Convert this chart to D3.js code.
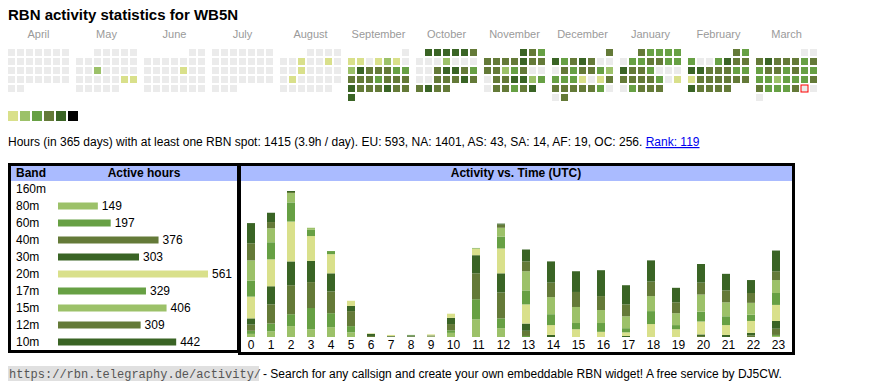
<!DOCTYPE html>
<html>
<head>
<meta charset="utf-8">
<script src="https://cdn.jsdelivr.net/npm/d3@7"></script>
<style>
  body { margin: 0; background: #fff; }
  text { font-family: "Liberation Sans", Arial, sans-serif; }
</style>
</head>
<body>
<div id="chart"></div>
<script>
// ---- data ----
const callsign = 'WB5N';
const months = ['April', 'May', 'June', 'July', 'August', 'September', 'October',
  'November', 'December', 'January', 'February', 'March'];
const startYear = 2024, startMonth = 3; // April 2024
const today = new Date(2025, 2, 29);
// activity level per day (0 = none ... 6 = max), one string per month
const dayLevels = [
  '000000000000000000000000000000',
  '0000000000000020000000001100000',
  '000000000000010000000000000000',
  '0000000000000000000000000000000',
  '0000001001000100000100000000000',
  '011012102544433444344454445445',
  '5555540002000004554300444544544',
  '543444454444234000445523044345',
  '4534540004344323331014444443004',
  '4333303344335443000444430103444',
  '4330035445544433144444454444',
  '0045444343443433332333443334000'
];
const levelColors = ['#ebebeb', '#d9e08b', '#9cc169', '#67a044', '#647a38', '#3a6425', '#000000'];

const bandNames = ['160m', '80m', '60m', '40m', '30m', '20m', '17m', '15m', '12m', '10m'];
const bandHours = [0, 149, 197, 376, 303, 561, 329, 406, 309, 442];
const bandLevel = [1, 2, 3, 4, 5, 1, 3, 2, 4, 5];

const hours = d3.range(24);
const h160 = [0, 0, 0, 0, 0, 0, 0, 0, 0, 0, 0, 0, 0, 0, 0, 0, 0, 0, 0, 0, 0, 0, 0, 0];
const h80 = [6, 11, 21, 15, 19, 9, 0, 0, 0, 1, 8, 34, 17, 0, 0, 0, 0, 0, 0, 0, 0, 0, 0, 2];
const h60 = [6, 15, 23, 41, 27, 12, 0, 0, 0, 0, 5, 39, 19, 2, 0, 0, 0, 0, 0, 0, 0, 0, 0, 2];
const h40 = [12, 37, 56, 50, 42, 29, 2, 1, 1, 1, 12, 50, 50, 10, 0, 0, 0, 0, 0, 0, 2, 0, 3, 12];
const h30 = [12, 35, 46, 41, 35, 10, 4, 1, 2, 1, 12, 35, 37, 14, 4, 0, 0, 2, 0, 0, 3, 4, 5, 15];
const h20 = [42, 52, 77, 48, 37, 10, 1, 2, 0, 2, 8, 12, 48, 37, 19, 15, 10, 7, 25, 15, 25, 19, 23, 31];
const h17 = [31, 33, 37, 12, 6, 0, 0, 0, 1, 0, 0, 1, 23, 27, 21, 12, 17, 8, 25, 8, 19, 17, 12, 23];
const h15 = [39, 27, 18, 4, 0, 0, 0, 0, 0, 0, 0, 1, 17, 37, 33, 31, 25, 23, 29, 23, 33, 27, 23, 25];
const h12 = [33, 12, 2, 0, 0, 0, 0, 0, 0, 0, 0, 0, 6, 19, 28, 29, 27, 23, 28, 21, 23, 23, 19, 17];
const h10 = [39, 18, 2, 0, 0, 0, 0, 0, 0, 0, 0, 0, 2, 23, 41, 40, 50, 37, 41, 28, 36, 32, 25, 40];
const hourly = [h160, h80, h60, h40, h30, h20, h17, h15, h12, h10];

const summary = 'Hours (in 365 days) with at least one RBN spot: 1415 (3.9h / day). EU: 593, NA: 1401, AS: 43, SA: 14, AF: 19, OC: 256. ';
const rankText = 'Rank: 119';

// ---- drawing ----
const width = 870, height = 390;
const svg = d3.select('#chart').append('svg')
  .attr('width', width)
  .attr('height', height);

svg.append('text')
  .attr('x', 8).attr('y', 20)
  .attr('font-size', 15).attr('font-weight', 'bold')
  .text('RBN activity statistics for ' + callsign);

// calendar heatmap
const monthX = d3.scaleBand().domain(months).range([8, 817]).paddingInner(7 / 68);
const colX = d3.scaleBand().domain(d3.range(7)).range([0, 61]).paddingInner(2 / 9);
const rowY = d3.scaleBand().domain(d3.range(6)).range([49, 101]).paddingInner(2 / 9);
const levelColor = d3.scaleOrdinal().domain(d3.range(7)).range(levelColors);

const days = [];
months.forEach((m, mi) => {
  const first = new Date(startYear, startMonth + mi, 1);
  const offset = (first.getDay() + 6) % 7; // monday first
  dayLevels[mi].split('').forEach((lv, i) => {
    days.push({ month: m, pos: offset + i, level: +lv, date: d3.timeDay.offset(first, i) });
  });
});

svg.append('g').selectAll('text')
  .data(months)
  .enter().append('text')
  .attr('x', d => monthX(d) + monthX.bandwidth() / 2)
  .attr('y', 38)
  .attr('text-anchor', 'middle')
  .attr('font-size', 11)
  .attr('fill', '#9a9a9a')
  .text(d => d);

svg.append('g').selectAll('rect')
  .data(days)
  .enter().append('rect')
  .attr('x', d => monthX(d.month) + colX(d.pos % 7))
  .attr('y', d => rowY(Math.floor(d.pos / 7)))
  .attr('width', colX.bandwidth())
  .attr('height', rowY.bandwidth())
  .attr('fill', d => levelColor(d.level))
  .attr('stroke', d => +d.date === +today ? 'red' : null)
  .attr('stroke-width', 1);

// legend
const legendX = d3.scaleBand().domain(d3.range(1, 7)).range([8, 78]).paddingInner(2 / 12);
svg.append('g').selectAll('rect')
  .data(d3.range(1, 7))
  .enter().append('rect')
  .attr('x', d => legendX(d))
  .attr('y', 111)
  .attr('width', legendX.bandwidth())
  .attr('height', 10)
  .attr('fill', d => levelColor(d));

const info = svg.append('text')
  .attr('x', 8).attr('y', 146)
  .attr('font-size', 12);
info.append('tspan').text(summary);
info.append('tspan')
  .attr('fill', '#0000ee')
  .style('text-decoration', 'underline')
  .text(rankText);

// band table
svg.append('rect')
  .attr('x', 9.5).attr('y', 164.5).attr('width', 229).attr('height', 187)
  .attr('fill', 'none').attr('stroke', '#000').attr('stroke-width', 3);
svg.append('rect')
  .attr('x', 11).attr('y', 166).attr('width', 226).attr('height', 15)
  .attr('fill', '#aabbff');
svg.append('text').attr('x', 16).attr('y', 177)
  .attr('font-size', 12).attr('font-weight', 'bold').text('Band');
svg.append('text').attr('x', 144).attr('y', 177)
  .attr('font-size', 12).attr('font-weight', 'bold').attr('text-anchor', 'middle')
  .text('Active hours');

const bandY = d3.scaleBand().domain(bandNames).range([180.5, 350.5]);
const bandW = d3.scaleLinear().domain([0, d3.max(bandHours)]).range([0, 150]);
const bandRows = bandNames.map((b, i) => ({ band: b, hours: bandHours[i], level: bandLevel[i] }));

const row = svg.append('g').selectAll('g')
  .data(bandRows)
  .enter().append('g')
  .attr('transform', d => `translate(0,${bandY(d.band) + bandY.bandwidth() / 2})`);

row.append('text')
  .attr('x', 16).attr('y', 4)
  .attr('font-size', 12)
  .text(d => d.band);

row.filter(d => d.hours > 0).append('rect')
  .attr('x', 58).attr('y', -3.5)
  .attr('width', d => bandW(d.hours))
  .attr('height', 7)
  .attr('fill', d => levelColor(d.level));

row.filter(d => d.hours > 0).append('text')
  .attr('x', d => 58 + bandW(d.hours) + 4)
  .attr('y', 4)
  .attr('font-size', 12)
  .text(d => d.hours);

// activity vs time
svg.append('rect')
  .attr('x', 239.5).attr('y', 164.5).attr('width', 554).attr('height', 189)
  .attr('fill', 'none').attr('stroke', '#000').attr('stroke-width', 3);
svg.append('rect')
  .attr('x', 241).attr('y', 166).attr('width', 551).attr('height', 15)
  .attr('fill', '#aabbff');
svg.append('text').attr('x', 516).attr('y', 177)
  .attr('font-size', 12).attr('font-weight', 'bold').attr('text-anchor', 'middle')
  .text('Activity vs. Time (UTC)');

// table columns: width follows label length
const colWeight = hours.map(h => String(h).length + 3);
const colStart = d3.cumsum([0].concat(colWeight));
const x = d3.scaleLinear().domain([0, d3.sum(colWeight)]).range([241, 791]);

const table = hours.map((h, i) => {
  const o = { hour: h };
  bandNames.forEach((b, j) => { o[b] = hourly[j][i]; });
  return o;
});
const series = d3.stack().keys(bandNames)(table);
const maxTotal = d3.max(table, d => d3.sum(bandNames, b => d[b]));
const y = d3.scaleLinear().domain([0, maxTotal]).range([337, 191]);

svg.append('g').selectAll('g')
  .data(series)
  .enter().append('g')
  .attr('fill', (d, i) => levelColor(bandLevel[i]))
  .selectAll('rect')
  .data(d => d)
  .enter().append('rect')
  .attr('x', (d, i) => x(colStart[i]) + 6)
  .attr('y', d => y(d[1]))
  .attr('width', 8)
  .attr('height', d => y(d[0]) - y(d[1]));

svg.append('g').selectAll('text')
  .data(hours)
  .enter().append('text')
  .attr('x', (d, i) => (x(colStart[i]) + x(colStart[i + 1])) / 2)
  .attr('y', 349)
  .attr('text-anchor', 'middle')
  .attr('font-size', 12)
  .text(d => d);

// footer
svg.append('rect')
  .attr('x', 8).attr('y', 366).attr('width', 251).attr('height', 15)
  .attr('fill', '#e0e0e0');
svg.append('text')
  .attr('x', 9).attr('y', 378)
  .attr('font-size', 12)
  .style('font-family', '"Liberation Mono", "DejaVu Sans Mono", monospace')
  .attr('fill', '#555')
  .text('https://rbn.telegraphy.de/activity/');
svg.append('text')
  .attr('x', 263).attr('y', 378)
  .attr('font-size', 12)
  .text('- Search for any callsign and create your own embeddable RBN widget! A free service by DJ5CW.');
</script>
</body>
</html>
